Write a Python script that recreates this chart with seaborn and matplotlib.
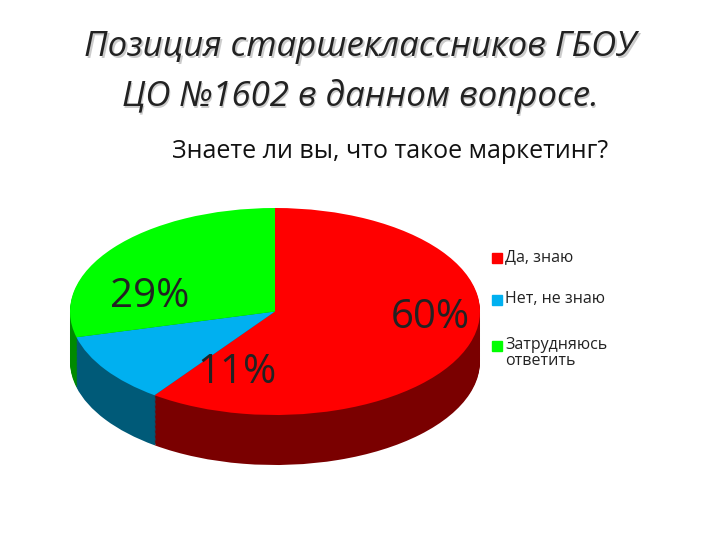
import matplotlib
matplotlib.use("Agg")
import matplotlib.pyplot as plt
import seaborn as sns

categories = ["Да, знаю", "Нет, не знаю", "Затрудняюсь\nответить"]
values = [60, 11, 29]
labels = ["60%", "11%", "29%"]
top_colors = ["#FF0000", "#00B0F0", "#00FF00"]
side_colors = ["#7A0000", "#005A78", "#008A00"]

sns.set_theme(style="white")
plt.rcParams['font.family'] = ['Open Sans', 'DejaVu Sans']

W, H = 720, 540
fig = plt.figure(figsize=(7.2, 5.4), dpi=100)
fig.patch.set_facecolor("white")

x0, x1, y0, y1 = 70, 480, 208, 465
ax = fig.add_axes([x0 / W, 1 - y1 / H, (x1 - x0) / W, (y1 - y0) / H])
depth = 50 / 103.5

n = 40
for k in range(n, 0, -1):
    dy = depth * k / n
    ax.pie(values, colors=side_colors, startangle=90, counterclock=False,
           center=(0, -dy), radius=1, frame=True,
           wedgeprops=dict(linewidth=0))
ax.pie(values, colors=top_colors, startangle=90, counterclock=False,
       center=(0, 0), radius=1, frame=True, wedgeprops=dict(linewidth=0))
ax.set_aspect("auto")
ax.set_xlim(-1, 1)
ax.set_ylim(-1 - depth, 1)
ax.axis("off")

def px(x, y):
    return x / W, 1 - y / H

label_pos = [(430, 318), (237, 373), (150, 297)]
for lab, (x, y) in zip(labels, label_pos):
    fig.text(*px(x, y), lab, fontsize=29, ha="center", va="center", color="#222222")

title_lines = [("Позиция старшеклассников ГБОУ", 47), ("ЦО №1602 в данном вопросе.", 97)]
for text, y in title_lines:
    fig.text(*px(361.5, y + 1.5), text + "", fontsize=25, style="italic",
             ha="center", va="center", color="#CCCCCC", zorder=1)
    fig.text(*px(360, y), text, fontsize=25, style="italic",
             ha="center", va="center", color="#222222", zorder=2)
fig.text(*px(390, 152), "Знаете ли вы, что такое маркетинг?", fontsize=18,
         ha="center", va="center", color="#111111")

leg_pos = [257, 299, 345]
for cat, col, y in zip(categories, top_colors, leg_pos):
    fig.patches.append(plt.Rectangle(px(492, y + 6), 10 / W, 10 / H,
                                     transform=fig.transFigure, color=col))
    fig.text(*px(505, y - 8), cat, fontsize=11.5, ha="left", va="top",
             color="#222222", linespacing=1.0)

fig.savefig("out.png", dpi=100)
